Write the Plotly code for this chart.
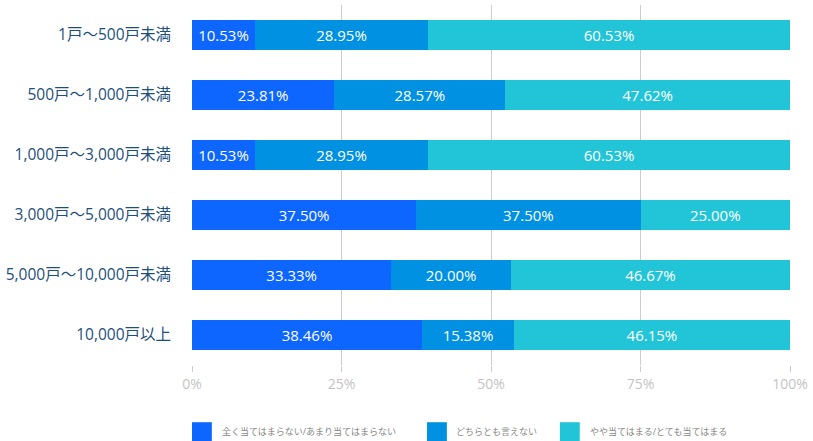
import plotly.graph_objects as go

categories = ["1戸～500戸未満", "500戸～1,000戸未満", "1,000戸～3,000戸未満",
              "3,000戸～5,000戸未満", "5,000戸～10,000戸未満", "10,000戸以上"]
series_names = ["全く当てはまらない/あまり当てはまらない", "どちらとも言えない", "やや当てはまる/とても当てはまる"]
s1 = [10.53, 23.81, 10.53, 37.50, 33.33, 38.46]
s2 = [28.95, 28.57, 28.95, 37.50, 20.00, 15.38]
s3 = [60.53, 47.62, 60.53, 25.00, 46.67, 46.15]
tick_vals = [0, 25, 50, 75, 100]
tick_text = ["0%", "25%", "50%", "75%", "100%"]

colors = ["#0D66FF", "#0091E2", "#22C4D8"]
font_family = "Open Sans, Noto Sans CJK JP, sans-serif"

fig = go.Figure()
for name, vals, col in zip(series_names, [s1, s2, s3], colors):
    fig.add_trace(go.Bar(
        y=categories, x=vals, name=name, orientation="h",
        marker=dict(color=col, line=dict(width=0)),
        width=0.5,
        text=[f"{v:.2f}%" for v in vals],
        textposition="inside", insidetextanchor="middle",
        textfont=dict(color="white", size=15, family=font_family),
        hoverinfo="skip",
    ))

fig.update_layout(
    barmode="stack",
    width=813, height=441,
    margin=dict(l=192, r=18, t=5, b=76),
    paper_bgcolor="white", plot_bgcolor="white",
    showlegend=False,
    font=dict(family=font_family),
    uniformtext=dict(minsize=15, mode="show"),
    xaxis=dict(range=[0, 100], tickvals=tick_vals, ticktext=tick_text,
               showgrid=True, gridcolor="#cccccc", gridwidth=1,
               zeroline=False, showline=False,
               ticks="outside", ticklen=6, tickcolor="#cccccc",
               tickfont=dict(color="#c4c4c4", size=14, family=font_family)),
    yaxis=dict(autorange="reversed", showgrid=False, zeroline=False,
               showline=False, ticks="", ticklabelstandoff=20,
               tickfont=dict(color="#1d4f7c", size=15.5, family=font_family)),
)

# custom legend
plot_w = 813 - 192 - 18
sq_px = [192, 429, 563]
txt_px = [220, 456, 591]
for i, name in enumerate(series_names):
    x0 = (sq_px[i] - 192) / plot_w
    x1 = (sq_px[i] + 20 - 192) / plot_w
    fig.add_shape(type="rect", xref="paper", yref="paper",
                  x0=x0, x1=x1, y0=-0.2117, y1=-0.1589,
                  fillcolor=colors[i], line=dict(width=0))
    fig.add_annotation(xref="paper", yref="paper",
                       x=(txt_px[i] - 192) / plot_w, y=-0.1853,
                       xanchor="left", yanchor="middle", showarrow=False,
                       text=name, font=dict(color="#888888", size=9, family=font_family))

fig.write_html("out.html", config={"displayModeBar": False},
               post_script="document.body.style.margin='0';document.body.style.overflow='hidden';")
